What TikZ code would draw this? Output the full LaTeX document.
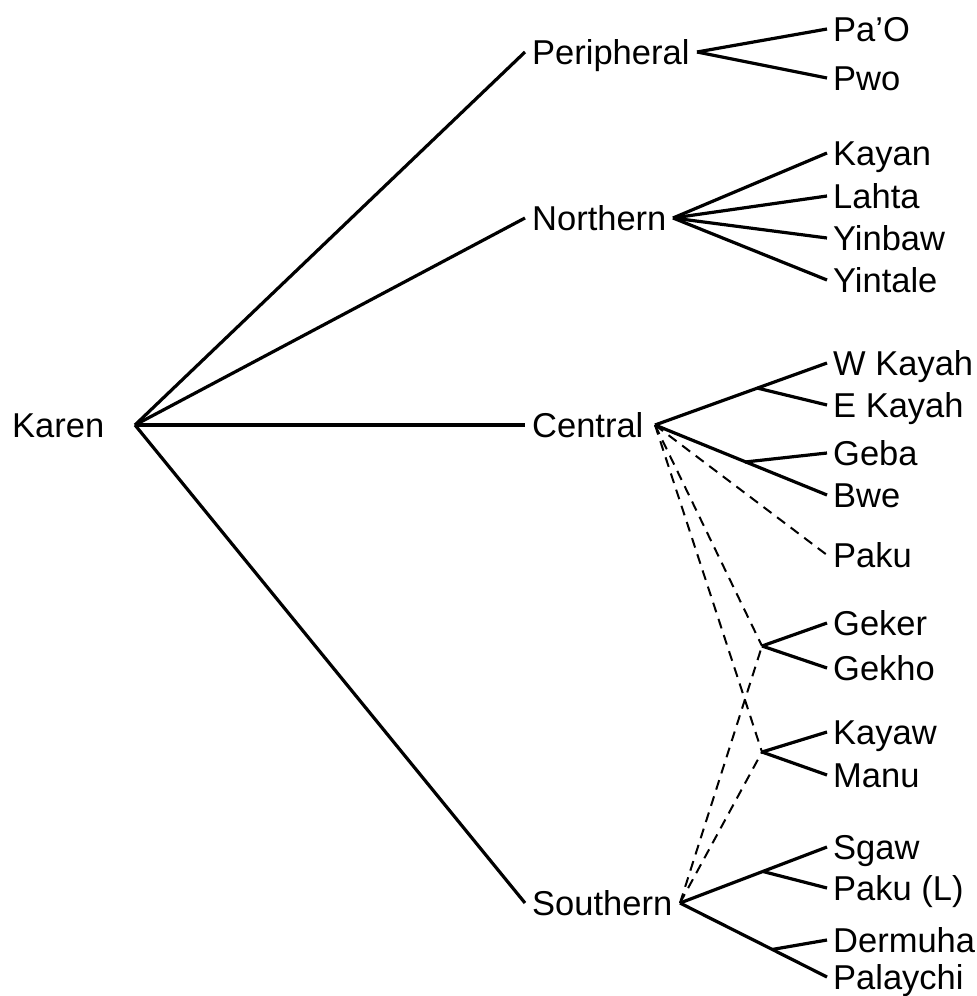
\documentclass[tikz,border=0pt]{standalone}
\usepackage{fontspec}
\setmainfont{Liberation Sans}
\begin{document}
\begin{tikzpicture}[x=1pt,y=-1pt,
  lbl/.style={anchor=west, inner xsep=6pt, inner ysep=0pt, text height=24.3pt, text depth=0pt, font=\fontsize{34.5}{40}\selectfont},
  tree/.style={line width=3.2pt, line join=round},
  dlink/.style={line width=2pt, dash pattern=on 10pt off 7pt}]
\useasboundingbox (0,0) rectangle (977,996);

% root
\node[lbl, inner xsep=0pt] (karen) at (12,425) {Karen};
\coordinate (kr) at (135,425);

% level 1
\node[lbl, inner xsep=7pt] (per) at (525,52) {Peripheral};
\node[lbl, inner xsep=7pt] (nor) at (525,218) {Northern};
\node[lbl, inner xsep=7pt] (cen) at (525,425) {Central};
\node[lbl, inner xsep=7pt] (sou) at (525,903) {Southern};
\coordinate (perR) at (697,52);
\coordinate (norR) at (673,218);
\coordinate (cenR) at (655,425);
\coordinate (souR) at (680,903);

% leaves
\node[lbl] (pao) at (827,29) {Pa’O};
\node[lbl] (pwo) at (827,78) {Pwo};
\node[lbl] (kayan) at (827,153) {Kayan};
\node[lbl] (lahta) at (827,196) {Lahta};
\node[lbl] (yinbaw) at (827,238) {Yinbaw};
\node[lbl] (yintale) at (827,280) {Yintale};
\node[lbl] (wkayah) at (827,363) {W Kayah};
\node[lbl] (ekayah) at (827,405) {E Kayah};
\node[lbl] (geba) at (827,453) {Geba};
\node[lbl] (bwe) at (827,495) {Bwe};
\node[lbl] (paku) at (827,555) {Paku};
\node[lbl] (geker) at (827,623) {Geker};
\node[lbl] (gekho) at (827,668) {Gekho};
\node[lbl] (kayaw) at (827,732) {Kayaw};
\node[lbl] (manu) at (827,775) {Manu};
\node[lbl] (sgaw) at (827,847) {Sgaw};
\node[lbl] (pakul) at (827,888) {Paku (L)};
\node[lbl] (dermuha) at (827,940) {Dermuha};
\node[lbl] (palaychi) at (827,977) {Palaychi};

% junctions
\coordinate (keJ) at (757,388);
\coordinate (gbJ) at (745,462);
\coordinate (gkJ) at (762,646);
\coordinate (kmJ) at (762,752);
\coordinate (spJ) at (763,871.5);
\coordinate (dpJ) at (772,949.5);

% root edges
\draw[tree] (kr) -- (per.west);
\draw[tree] (kr) -- (nor.west);
\draw[tree] (kr) -- (cen.west);
\draw[tree] (kr) -- (sou.west);

% Peripheral
\draw[tree] (perR) -- (pao.west);
\draw[tree] (perR) -- (pwo.west);

% Northern
\draw[tree] (norR) -- (kayan.west);
\draw[tree] (norR) -- (lahta.west);
\draw[tree] (norR) -- (yinbaw.west);
\draw[tree] (norR) -- (yintale.west);

% Central
\draw[tree] (cenR) -- (wkayah.west);
\draw[tree] (keJ) -- (ekayah.west);
\draw[tree] (cenR) -- (bwe.west);
\draw[tree] (gbJ) -- (geba.west);
\draw[dlink] (cenR) -- (paku.west);
\draw[dlink] (cenR) -- (gkJ);
\draw[dlink] (cenR) -- (kmJ);

% Geker/Gekho, Kayaw/Manu
\draw[tree] (gkJ) -- (geker.west);
\draw[tree] (gkJ) -- (gekho.west);
\draw[tree] (kmJ) -- (kayaw.west);
\draw[tree] (kmJ) -- (manu.west);

% Southern
\draw[dlink] (souR) -- (gkJ);
\draw[dlink] (souR) -- (kmJ);
\draw[tree] (souR) -- (sgaw.west);
\draw[tree] (spJ) -- (pakul.west);
\draw[tree] (souR) -- (palaychi.west);
\draw[tree] (dpJ) -- (dermuha.west);
\end{tikzpicture}
\end{document}
